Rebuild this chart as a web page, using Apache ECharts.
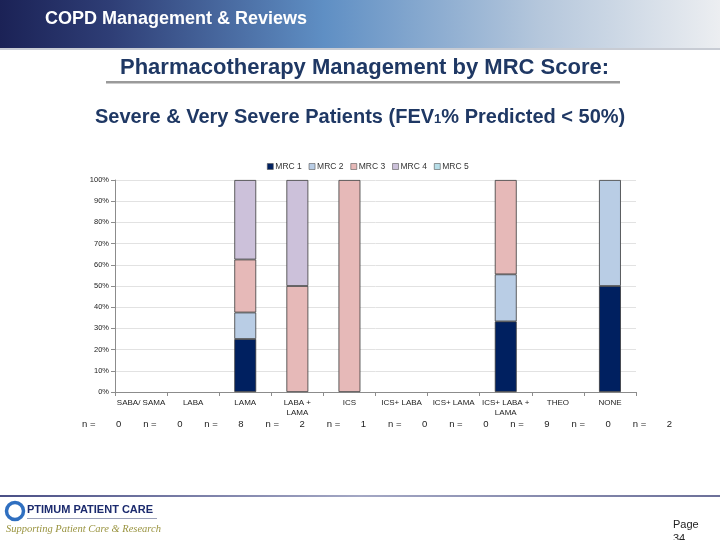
<!DOCTYPE html>
<html><head><meta charset="utf-8">
<script src="https://cdn.jsdelivr.net/npm/echarts@6/dist/echarts.min.js"></script>
<style>html,body{margin:0;padding:0;background:#fff}#c{width:720px;height:540px}</style>
</head><body><div id="c"></div>
<script>
var categories = ['SABA/ SAMA','LABA','LAMA','LABA +\nLAMA','ICS','ICS+ LABA','ICS+ LAMA','ICS+ LABA +\nLAMA','THEO','NONE'];
var nCounts = [0,0,8,2,1,0,0,9,0,2];
var seriesNames = ['MRC 1','MRC 2','MRC 3','MRC 4','MRC 5'];
var mrc1 = [null,null,25,null,null,null,null,33.3,null,50];
var mrc2 = [null,null,12.5,null,null,null,null,22.2,null,50];
var mrc3 = [null,null,25,50,100,null,null,44.5,null,null];
var mrc4 = [null,null,37.5,50,null,null,null,null,null,null];
var mrc5 = [null,null,null,null,null,null,null,null,null,null];
var yTicks = [0,10,20,30,40,50,60,70,80,90,100];
var colors = ['#002060','#b9cde5','#e6b9b8','#ccc1da','#b7dee8'];

var chart = echarts.init(document.getElementById('c'), null, {renderer:'canvas'});
var allData = [mrc1,mrc2,mrc3,mrc4,mrc5];
var series = allData.map(function(d,i){
  return {name:seriesNames[i], type:'bar', stack:'s', data:d, barWidth:'42%',
    xAxisIndex:0, yAxisIndex:0,
    itemStyle:{color:colors[i], borderColor:'#3a3a3a', borderWidth:0.8}};
});
var font = 'Liberation Sans, Arial, sans-serif';
chart.setOption({
  animation:false,
  textStyle:{fontFamily:font},
  graphic:[
    {type:'rect', shape:{x:0,y:0,width:720,height:48}, z:0,
      style:{fill:{type:'linear',x:0,y:0,x2:1,y2:0,colorStops:[
        {offset:0,color:'#1b2256'},{offset:0.15,color:'#2e3d75'},{offset:0.45,color:'#5f8fc4'},{offset:0.75,color:'#b5c7dc'},{offset:1,color:'#eceef1'}]}}},
    {type:'rect', shape:{x:0,y:48,width:720,height:2}, style:{fill:'#c8ccd4'}},
    {type:'text', left:45, top:10, style:{text:'COPD Management & Reviews', fill:'#fff', font:'bold 18px '+font}},
    {type:'text', left:120, top:57, style:{text:'Pharmacotherapy Management by MRC Score:', fill:'#1f3864', font:'bold 22px '+font}},
    {type:'rect', shape:{x:106,y:81,width:514,height:2.5}, style:{fill:'#9a9a9a'}},
    {type:'text', left:95, top:107, style:{
      text:'{m|Severe & Very Severe Patients (FEV}{s|1}{m|% Predicted < 50%)}',
      rich:{m:{font:'bold 20px '+font, fill:'#1f3864', verticalAlign:'bottom'}, s:{font:'bold 13px '+font, fill:'#1f3864', verticalAlign:'bottom', padding:[0,0,1,0]}}}},
    {type:'rect', shape:{x:0,y:495,width:720,height:2}, style:{fill:{type:'linear',x:0,y:0,x2:1,y2:0,colorStops:[{offset:0,color:'#4a4f86'},{offset:0.5,color:'#a3a7c4'},{offset:1,color:'#6c7099'}]}}},
    {type:'circle', shape:{cx:15,cy:511,r:8.5}, style:{fill:'none', stroke:'#2f6fc0', lineWidth:3.5}},
    {type:'text', left:27, top:504, style:{text:'PTIMUM PATIENT CARE', fill:'#1c2b6e', font:'bold 11px '+font}},
    {type:'rect', shape:{x:27,y:518,width:130,height:1}, style:{fill:'#9aa0b8'}},
    {type:'text', left:6, top:524, style:{text:'Supporting Patient Care & Research', fill:'#9a9440', font:'italic 10.5px Liberation Serif, serif'}},
    {type:'text', left:673, top:518, style:{text:'Page\n34', fill:'#222', font:'11px '+font, lineHeight:14}}
  ],
  legend:{top:157, left:262, itemWidth:6, itemHeight:6, itemGap:7, icon:'rect',
    textStyle:{fontSize:8.5, color:'#333', padding:[0,0,0,-3]}, data:seriesNames,
    itemStyle:{borderColor:'#555', borderWidth:0.6}},
  grid:[{left:115, right:84, top:180, bottom:148},
        {left:71, right:37, top:418, height:1}],
  xAxis:[
    {type:'category', gridIndex:0, data:categories,
      axisLine:{lineStyle:{color:'#8c8c8c'}}, axisTick:{show:true, length:4, lineStyle:{color:'#8c8c8c'}},
      axisLabel:{interval:0, fontSize:8, color:'#222', margin:6, lineHeight:10}},
    {type:'category', gridIndex:1, data:nCounts.map(String), position:'bottom',
      axisLine:{show:false}, axisTick:{show:false},
      axisLabel:{interval:0, margin:0, formatter:function(v){return '{a|n =}{b|'+v+'}';},
        rich:{a:{fontSize:9.5, color:'#222', width:34, align:'left'}, b:{fontSize:9.5, color:'#222'}}}}
  ],
  yAxis:[
    {type:'value', gridIndex:0, min:0, max:100, interval:10,
      axisLabel:{formatter:'{value}%', fontSize:7.5, color:'#222', margin:6},
      axisLine:{show:true, lineStyle:{color:'#8c8c8c'}}, axisTick:{show:true, length:4, lineStyle:{color:'#8c8c8c'}},
      splitLine:{lineStyle:{color:'#e2e2e2'}}},
    {type:'value', gridIndex:1, show:false}
  ],
  series:series
});
</script></body></html>
